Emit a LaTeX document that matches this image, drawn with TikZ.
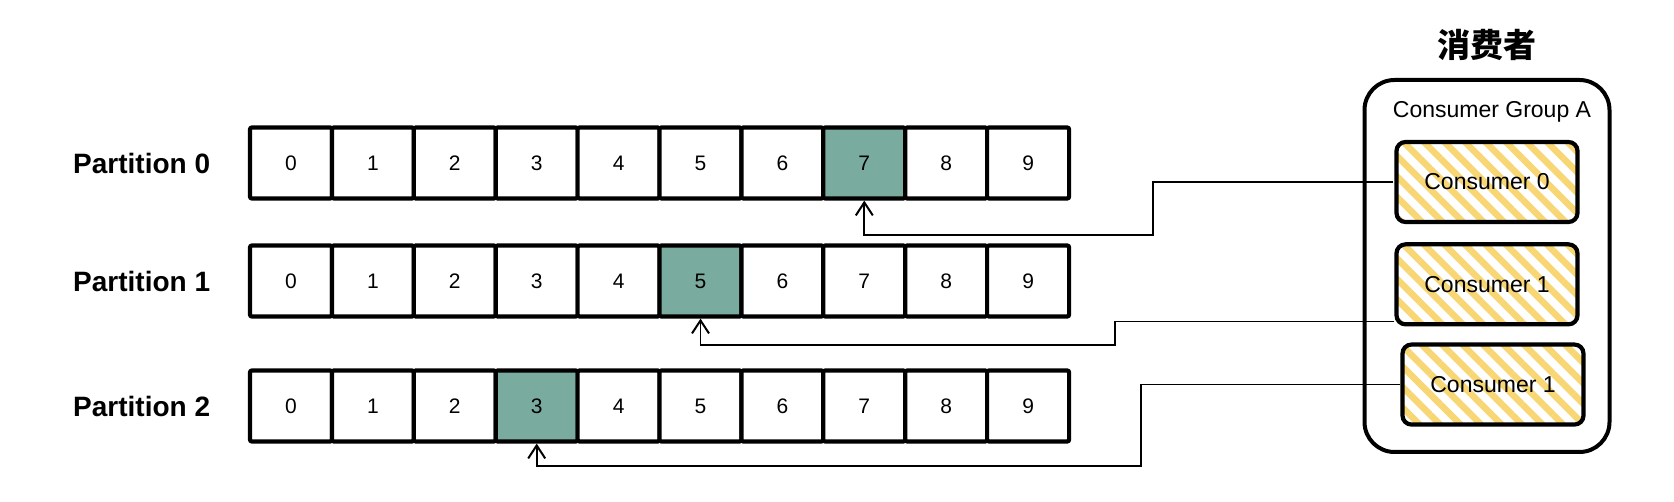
\documentclass[tikz,border=0pt]{standalone}
\usepackage{fontspec}
\setmainfont{Liberation Sans}
\newfontfamily\cjk{Noto Sans CJK SC}
\usepackage{tikz}
\usetikzlibrary{arrows.meta,patterns.meta,positioning}
\definecolor{offsetgreen}{HTML}{7AAB9F}
\definecolor{hatchyellow}{HTML}{F8D674}
\tikzset{
  font=\fontsize{21}{25}\selectfont,
  cell/.style={
    draw, line width=4.2pt, fill=white, rounded corners=2pt,
    minimum width=82pt, minimum height=71pt, inner sep=0pt
  },
  partlabel/.style={font=\fontsize{28}{33}\selectfont\bfseries, inner sep=0pt},
  group/.style={draw, line width=4pt, rounded corners=30pt, minimum width=245pt, minimum height=372pt},
  grouptitle/.style={font=\fontsize{23}{28}\selectfont},
  consumer/.style={
    draw, line width=4.2pt, rounded corners=9pt,
    minimum width=181pt, minimum height=80pt,
    pattern={Lines[angle=-45,distance=14.5pt,line width=6.5pt]}, pattern color=hatchyellow,
    font=\fontsize{23}{28}\selectfont
  },
  headline/.style={font=\fontsize{33}{40}\selectfont\cjk\bfseries},
  link/.style={-{Straight Barb[length=13pt,width=17pt,line width=2pt]}, line width=1.8pt}
}
\begin{document}
\begin{tikzpicture}[x=1pt, y=-1pt]
  \useasboundingbox (0,0) rectangle (1674,502);

  % partitions, offset cell filled
  \foreach \r/\y/\hl in {0/163/7, 1/281/5, 2/406/3} {
    \node[partlabel, anchor=west] (part\r) at (73,\y) {Partition \r};
    \foreach \i in {0,...,9} {
      \ifnum\i=\hl \def\fillc{offsetgreen}\else\def\fillc{white}\fi
      \node[cell, fill=\fillc] (p\r-\i) at ({291+81.9*\i},\y) {\i};
    }
  }

  % consumer group
  \node[group] (group) at (1487,266) {};
  \node[headline, above=14pt of group] (title) {消费者};
  \node[grouptitle, below=20pt of group.north, xshift=5pt] (gname) {Consumer Group A};
  \node[consumer] (cons0) at (1487,182) {Consumer 0};
  \node[consumer, below=17pt of cons0] (cons1) {Consumer 1};
  \node[consumer, below=16pt of cons1, xshift=6pt] (cons2) {Consumer 1};

  \coordinate (bend0) at (1153,235);
  \coordinate (bend1) at (1115,345);
  \coordinate (bend2) at (1141,466);
  \draw[link] (cons0.west) -| (bend0) -| (p0-7.south);
  \draw[link] ([yshift=5pt]cons1.south west) -| (bend1) -| (p1-5.south);
  \draw[link] (cons2.west) -| (bend2) -| (p2-3.south);
\end{tikzpicture}
\end{document}
